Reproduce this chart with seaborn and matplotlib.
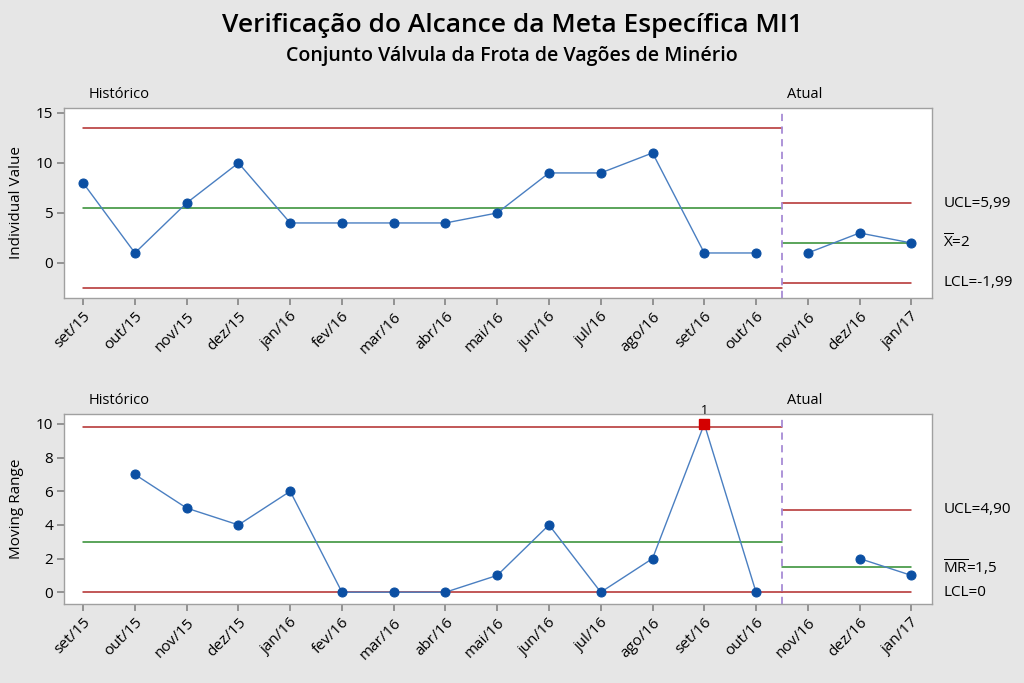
import numpy as np
import pandas as pd
import matplotlib
matplotlib.use("Agg")
import matplotlib.pyplot as plt
import seaborn as sns

# ---- data ----
months = ["set/15", "out/15", "nov/15", "dez/15", "jan/16", "fev/16", "mar/16", "abr/16",
          "mai/16", "jun/16", "jul/16", "ago/16", "set/16", "out/16", "nov/16", "dez/16", "jan/17"]
stage = ["Histórico"] * 14 + ["Atual"] * 3
values = [8, 1, 6, 10, 4, 4, 4, 4, 5, 9, 9, 11, 1, 1, 1, 3, 2]
moving_range = [np.nan, 7, 5, 4, 6, 0, 0, 0, 1, 4, 0, 2, 10, 0, np.nan, 2, 1]
# control limits per stage (centre, UCL, LCL)
i_limits = {"Histórico": (5.5, 13.48, -2.48), "Atual": (2.0, 5.99, -1.99)}
mr_limits = {"Histórico": (3.0, 9.80, 0.0), "Atual": (1.5, 4.90, 0.0)}
out_of_control = [12]  # index in moving_range flagged with test 1

sns.set_theme(style="white")
plt.rcParams['font.family'] = ['Open Sans', 'DejaVu Sans']
plt.rcParams['mathtext.fontset'] = 'custom'
plt.rcParams['mathtext.rm'] = 'Open Sans'
plt.rcParams['text.color'] = 'black'
plt.rcParams['axes.labelcolor'] = 'black'
plt.rcParams['xtick.color'] = 'black'
plt.rcParams['ytick.color'] = 'black'

df = pd.DataFrame({"idx": np.arange(len(months)), "month": months, "stage": stage,
                   "value": values, "mr": moving_range})

BG = "#e6e6e6"
fig = plt.figure(figsize=(10.24, 6.83), dpi=100, facecolor=BG)
ax1 = fig.add_axes([0.0625, 0.5637, 0.8477, 0.2783])
ax2 = fig.add_axes([0.0625, 0.1157, 0.8477, 0.2783])

RED = "#b22a2a"
GREEN = "#2e8b2e"
LINE = "#4a7fc1"
MARK = "#0b4fa3"
DASH = "#a78bd6"

split = 13.5
ranges = {"Histórico": (0, split), "Atual": (split, 16)}


def draw(ax, col, limits, ylim, yticks):
    ax.set_facecolor("white")
    for st in ["Histórico", "Atual"]:
        sub = df[df.stage == st]
        sns.lineplot(data=sub, x="idx", y=col, ax=ax, color=LINE, lw=1.0,
                     marker="o", markersize=6.5, markerfacecolor=MARK,
                     markeredgecolor=MARK, zorder=3)
        c, u, l = limits[st]
        x0, x1 = ranges[st]
        ax.plot([x0, x1], [u, u], color=RED, lw=1.1, zorder=2)
        ax.plot([x0, x1], [l, l], color=RED, lw=1.1, zorder=2)
        ax.plot([x0, x1], [c, c], color=GREEN, lw=1.1, zorder=2)
    ax.axvline(split, color=DASH, lw=1.3, ls=(0, (4, 3)), zorder=2)
    ax.set_xlim(-0.37, 16.4)
    ax.set_ylim(*ylim)
    ax.set_yticks(yticks)
    ax.set_xticks(np.arange(len(months)))
    ax.set_xticklabels(months, rotation=45, ha="right", rotation_mode="anchor", fontsize=11)
    ax.tick_params(axis="both", which="both", length=5, color="#888888", labelsize=11,
                   left=True, bottom=True, pad=3)
    for s in ax.spines.values():
        s.set_color("#a0a0a0")
        s.set_linewidth(1.0)
    ax.set_xlabel("")
    ax.annotate("Histórico", xy=(0.1, 1.0), xycoords=("data", "axes fraction"),
                xytext=(0, 4), textcoords="offset points", fontsize=10.5, ha="left", va="bottom")
    ax.annotate("Atual", xy=(split + 0.1, 1.0), xycoords=("data", "axes fraction"),
                xytext=(0, 4), textcoords="offset points", fontsize=10.5, ha="left", va="bottom")


draw(ax1, "value", i_limits, (-3.5, 15.5), [0, 5, 10, 15])
draw(ax2, "mr", mr_limits, (-0.7, 10.6), [0, 2, 4, 6, 8, 10])

ax1.set_ylabel("Individual Value", fontsize=11, labelpad=8)
ax2.set_ylabel("Moving Range", fontsize=11, labelpad=8)

# out-of-control point
for i in out_of_control:
    ax2.plot(i, moving_range[i], marker="s", color="#d40000", markersize=7, zorder=4, ls="none")
    ax2.annotate("1", xy=(i, moving_range[i]), xytext=(0, 5), textcoords="offset points",
                 ha="center", va="bottom", fontsize=9)


# right-side labels
def rlab(ax, y, txt):
    ax.annotate(txt, xy=(1.0, y), xycoords=("axes fraction", "data"), xytext=(8, 0),
                textcoords="offset points", ha="left", va="center", fontsize=11,
                annotation_clip=False)


c, u, l = i_limits["Atual"]
rlab(ax1, u, "UCL=5,99")
rlab(ax1, c, r"$\overline{\mathrm{X}}$=2")
rlab(ax1, l, "LCL=-1,99")
c, u, l = mr_limits["Atual"]
rlab(ax2, u, "UCL=4,90")
rlab(ax2, c, r"$\overline{\mathrm{MR}}$=1,5")
rlab(ax2, l, "LCL=0")

fig.text(0.5, 0.962, "Verificação do Alcance da Meta Específica MI1", ha="center", va="center",
         fontsize=19, fontweight="semibold")
fig.text(0.5, 0.918, "Conjunto Válvula da Frota de Vagões de Minério", ha="center", va="center",
         fontsize=14, fontweight="semibold")

fig.savefig("out.png", dpi=100, facecolor=BG)
